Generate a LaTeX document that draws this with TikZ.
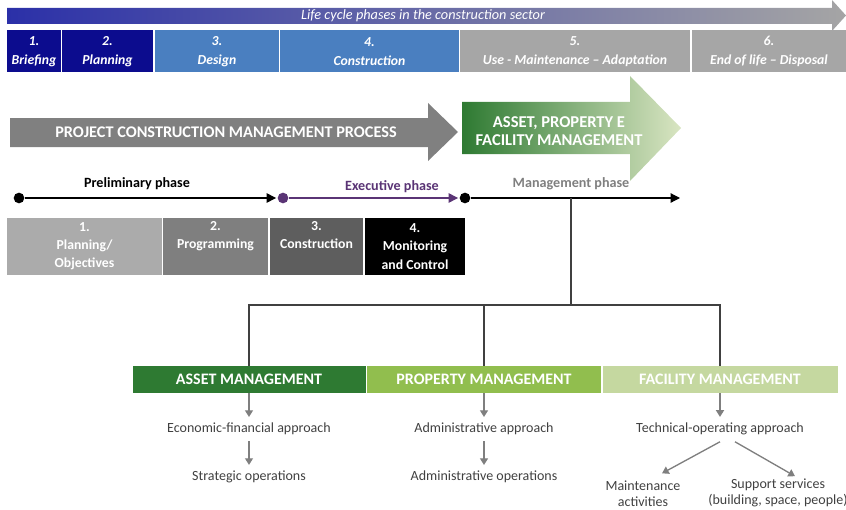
\documentclass[tikz,border=0pt]{standalone}
\usepackage{fontspec}
\setmainfont{Carlito}
\usetikzlibrary{arrows.meta}
\definecolor{navy}{HTML}{0C0C8E}
\definecolor{steel}{HTML}{4A7FC0}
\definecolor{lgray}{HTML}{A6A6A6}
\definecolor{barl}{HTML}{2B30A8}
\definecolor{barm}{HTML}{5C8BC9}
\definecolor{barr}{HTML}{A5A5A5}
\definecolor{pgray}{HTML}{808080}
\definecolor{gdark}{HTML}{2E7A32}
\definecolor{gmid}{HTML}{91BE4E}
\definecolor{glight}{HTML}{C5D8A0}
\definecolor{gpale}{HTML}{D9E5C2}
\definecolor{purp}{HTML}{5A3475}
\definecolor{txt}{HTML}{404040}
\definecolor{g1}{HTML}{ABABAB}
\definecolor{g2}{HTML}{7F7F7F}
\definecolor{g3}{HTML}{5E5E5E}
\begin{document}
\begin{tikzpicture}[x=0.75pt,y=-0.75pt,
  phasebox/.style={draw=none,inner sep=0pt,minimum height=31.5pt,text=white,align=center,
    font=\fontsize{10.3}{14.3}\selectfont\bfseries\itshape},
  stagebox/.style={draw=none,inner sep=0pt,minimum height=42.75pt,text=white,align=center,
    font=\fontsize{10.3}{13.6}\selectfont\bfseries},
  mgmtbox/.style={draw=none,inner sep=0pt,minimum height=20.25pt,text=white,
    font=\fontsize{12}{14}\selectfont\bfseries},
  dot/.style={circle,fill=black,inner sep=0pt,minimum size=8pt},
  lbl/.style={text=txt,align=center,font=\fontsize{10.5}{12}\selectfont},
  garrow/.style={draw=g2,line width=1pt,-{Triangle[length=5pt,width=6pt]}},
  tree/.style={draw=txt,line width=1.1pt}]
\useasboundingbox (0,0) rectangle (846,510);

% top life-cycle arrow
\shade[left color=barl,middle color=barm,right color=barr]
  (7,8) -- (832,8) -- (832,0) -- (846,15.5) -- (832,31) -- (832,24) -- (7,24) -- cycle;
\node[text=white,font=\fontsize{10.7}{12}\selectfont\itshape] (lc) at (423,16) {Life cycle phases in the construction sector};

% phase boxes
\node[phasebox,fill=navy,minimum width=40.5pt] (p1) at (34,51.5) {1.\\Briefing};
\node[phasebox,fill=navy,minimum width=68.25pt] (p2) at (107.5,51.5) {2.\\Planning};
\node[phasebox,fill=steel,minimum width=93pt] (p3) at (217,51.5) {3.\\Design};
\node[phasebox,fill=steel,minimum width=134.25pt] (p4) at (369.5,51.5) {4.\\Construction};
\node[phasebox,fill=lgray,minimum width=172.5pt] (p5) at (575,51.5) {5.\\Use - Maintenance -- Adaptation};
\node[phasebox,fill=lgray,minimum width=115.5pt] (p6) at (769,51.5) {6.\\End of life -- Disposal};

% project construction management process arrow
\fill[pgray] (10,118) -- (428,118) -- (428,103) -- (458,132) -- (428,161) -- (428,147) -- (10,147) -- cycle;
\node[text=white,font=\fontsize{12.2}{14}\selectfont\bfseries] (pcm) at (226,132) {PROJECT CONSTRUCTION MANAGEMENT PROCESS};

% asset property facility arrow
\shade[left color=gdark,middle color=gmid!80!gpale,right color=gpale]
  (462,102) -- (630,102) -- (630,76) -- (681,128) -- (630,181) -- (630,154) -- (462,154) -- cycle;
\node[text=white,align=center,font=\fontsize{12.4}{13.5}\selectfont\bfseries] (apf) at (559,131) {ASSET, PROPERTY E\\FACILITY MANAGEMENT};

% timeline
\node[dot] (d1) at (19,198) {};
\node[dot,fill=purp] (d2) at (283,198) {};
\node[dot] (d3) at (465,198) {};
\coordinate (mend) at (680,198);
\coordinate (j) at (571,198);
\draw[line width=0.9pt,-{Triangle[length=7pt,width=7pt]},shorten >=1pt] (d1) -- (d2.west);
\draw[purp,line width=0.9pt,-{Triangle[length=7pt,width=7pt]},shorten >=1pt] (d2) -- (d3.west);
\draw[line width=0.9pt,-{Triangle[length=7pt,width=7pt]}] (d3) -- (mend);
\node[font=\fontsize{10.6}{12}\selectfont\bfseries] (pre) at (137,184) {Preliminary phase};
\node[text=purp,font=\fontsize{10.6}{12}\selectfont\bfseries] (exe) at (392,187) {Executive phase};
\node[text=g2,font=\fontsize{10.6}{12}\selectfont\bfseries] (man) at (571,184) {Management phase};

% stage boxes
\node[stagebox,fill=g1,minimum width=116.25pt] (s1) at (84.5,246.5) {1.\\Planning/\\Objectives};
\node[stagebox,fill=g2,minimum width=78.75pt] (s2) at (215.5,246.5) {2.\\Programming\\\strut};
\node[stagebox,fill=g3,minimum width=69.75pt] (s3) at (316.5,246.5) {3.\\Construction\\\strut};
\node[stagebox,fill=black,minimum width=75pt] (s4) at (415,246.5) {4.\\Monitoring\\and Control};

% management boxes
\node[mgmtbox,fill=gdark,minimum width=174.75pt] (am) at (249,379.5) {ASSET MANAGEMENT};
\node[mgmtbox,fill=gmid,minimum width=175.5pt] (pm) at (484,379.5) {PROPERTY MANAGEMENT};
\node[mgmtbox,fill=glight,minimum width=176.25pt] (fm) at (720,379.5) {FACILITY MANAGEMENT};

% tree
\coordinate (hb) at (571,305);
\draw[tree] (j) -- (hb);
\draw[tree] (am.north) |- (fm.north |- hb) -- (fm.north);
\draw[tree] (pm.north) -- (pm.north |- hb);

% bottom labels
\node[lbl] (ea) at (249,429) {Economic-financial approach};
\node[lbl] (so) at (249,477) {Strategic operations};
\node[lbl] (aa) at (484,429) {Administrative approach};
\node[lbl] (ao) at (484,477) {Administrative operations};
\node[lbl] (ta) at (720,429) {Technical-operating approach};
\node[lbl,inner sep=1pt,font=\fontsize{10.5}{12.3}\selectfont] (ma) at (643,494) {Maintenance\\activities};
\node[lbl,inner sep=1pt,font=\fontsize{10.5}{12.3}\selectfont] (ss) at (778,493) {Support services\\(building, space, people)};

\draw[garrow,shorten >=1pt] (am.south) -- (ea.north);
\draw[garrow,shorten <=1pt,shorten >=1pt] (ea.south) -- (so.north);
\draw[garrow,shorten >=1pt] (pm.south) -- (aa.north);
\draw[garrow,shorten <=1pt,shorten >=1pt] (aa.south) -- (ao.north);
\draw[garrow,shorten >=1pt] (fm.south) -- (ta.north);
\draw[garrow] ([shift={(0,2)}]ta.south) -- ([shift={(19,-6)}]ma.north);
\draw[garrow] ([shift={(15,2)}]ta.south) -- ([shift={(17,-1)}]ss.north);
\end{tikzpicture}
\end{document}
